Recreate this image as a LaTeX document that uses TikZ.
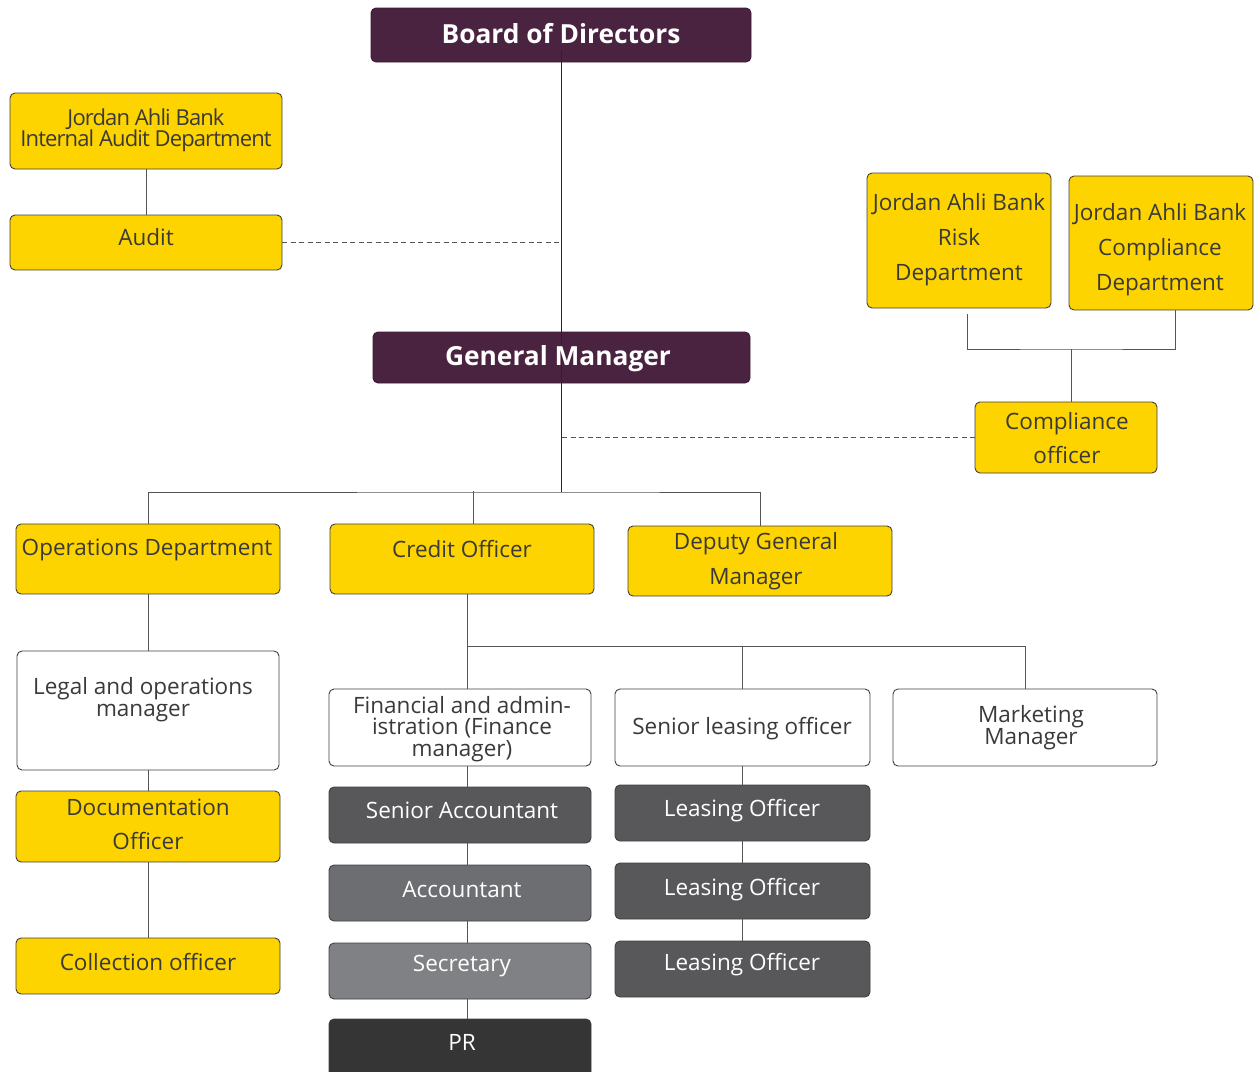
\documentclass[tikz,border=0pt]{standalone}
\usepackage{fontspec}
\setmainfont{Open Sans}
\usetikzlibrary{calc}
\definecolor{ayellow}{HTML}{FDD300}
\definecolor{apurple}{HTML}{4A2341}
\definecolor{gA}{HTML}{58585A}
\definecolor{gB}{HTML}{6D6E71}
\definecolor{gC}{HTML}{808184}
\definecolor{gD}{HTML}{353535}
\definecolor{txtc}{HTML}{3A3A3A}
\definecolor{linec}{HTML}{555555}
\newcommand\bx[6]{\node[#2, anchor=north west, minimum width={(#5-#3)*1pt}, minimum height={(#6-#4)*1pt}] (#1) at (#3,#4) {};}
\tikzset{
  box/.style={draw=black!75, line width=0.9pt, rounded corners=5pt, inner sep=0pt, outer sep=0pt},
  ybox/.style={box, fill=ayellow},
  wbox/.style={box, fill=white},
  pbox/.style={box, fill=apurple, draw=apurple!80!black},
  gbox/.style={box, fill=#1},
  txt/.style={text=txtc, font=\fontsize{22.5}{22}\selectfont, align=center, inner sep=0pt},
  wtxt/.style={txt, text=white},
  btxt/.style={txt, text=white, font=\fontsize{26.3}{28}\selectfont\bfseries},
  conn/.style={draw=linec, line width=1pt},
  dconn/.style={conn, dash pattern=on 5pt off 3.5pt},
}
\begin{document}
\begin{tikzpicture}[x=1pt,y=-1pt]
\useasboundingbox (0,0) rectangle (1258,1071);
% boxes
\bx{board}{pbox}{371}{8}{751}{62}
\bx{gm}{pbox}{373}{332}{750}{383}
\bx{iad}{ybox}{10}{93}{282}{169}
\bx{audit}{ybox}{10}{215}{282}{270}
\bx{risk}{ybox}{867}{173}{1051}{308}
\bx{compdept}{ybox}{1069}{176}{1253}{310}
\bx{compoff}{ybox}{975}{402}{1157}{473}
\bx{ops}{ybox}{16}{524}{280}{594}
\bx{credit}{ybox}{330}{524}{594}{594}
\bx{dgm}{ybox}{628}{526}{892}{596}
\bx{legal}{wbox}{17}{651}{279}{770}
\bx{doc}{ybox}{16}{791}{280}{862}
\bx{coll}{ybox}{16}{938}{280}{994}
\bx{fin}{wbox}{329}{689}{591}{766}
\bx{sl}{wbox}{615}{689}{870}{766}
\bx{mkt}{wbox}{893}{689}{1157}{766}
\bx{sa}{gbox=gA}{329}{787}{591}{843}
\bx{acc}{gbox=gB}{329}{865}{591}{921}
\bx{sec}{gbox=gC}{329}{943}{591}{999}
\bx{pr}{gbox=gD}{329}{1019}{591}{1090}
\bx{lo1}{gbox=gA}{615}{785}{870}{841}
\bx{lo2}{gbox=gA}{615}{863}{870}{919}
\bx{lo3}{gbox=gA}{615}{941}{870}{997}
% connectors
\coordinate (hb) at (561,492);
\coordinate (rj) at (1071,349);
\coordinate (cj) at (467,646);
\draw[conn] (iad.south) -- (audit.north);
\draw[dconn] (audit.east) -- (audit.east -| hb);
\draw[dconn] (compoff.west) -- (compoff.west -| hb);
\draw[conn] ([xshift=8pt,yshift=-6pt]risk.south) |- (rj) -| ([xshift=14pt]compdept.south);
\draw[conn] (rj) -- (rj |- compoff.north);
\draw[conn] (ops.north) |- (hb) -| (dgm.north);
\draw[conn] ([xshift=11pt]credit.north) -- ([xshift=11pt,yshift=1pt]credit.north |- hb);
\draw[conn] (ops.south) -- (legal.north);
\draw[conn] (legal.south) -- (doc.north);
\draw[conn] (doc.south) -- (coll.north);
\draw[conn] (cj |- credit.south) -- (cj |- fin.north);
\draw[conn] (cj) -| (sl.north);
\draw[conn] (cj) -| (mkt.north);
\draw[conn] (cj |- fin.south) -- (cj |- sa.north);
\draw[conn] (cj |- sa.south) -- (cj |- acc.north);
\draw[conn] (cj |- acc.south) -- (cj |- sec.north);
\draw[conn] (cj |- sec.south) -- (cj |- pr.north);
\draw[conn] (sl.south) -- (lo1.north);
\draw[conn] (lo1.south) -- (lo2.north);
\draw[conn] (lo2.south) -- (lo3.north);
\draw[draw=black!85, line width=1pt] ([yshift=12pt]board.south) -- (hb);
% texts
\node[btxt] (t-board) at (561,33.5) {Board of Directors};
\node[btxt] (t-gm) at (558,359) {General Manager};
\node[txt, font=\fontsize{22}{21}\selectfont\addfontfeature{LetterSpace=-4}] (t-iad) at (146,130) {Jordan Ahli Bank\\Internal Audit Department};
\node[txt] (t-audit) at (146,237.5) {Audit};
\node[txt, font=\fontsize{22.5}{35}\selectfont] (t-risk) at (959,240) {Jordan Ahli Bank\\Risk\\Department};
\node[txt, font=\fontsize{22.5}{35}\selectfont] (t-compdept) at (1160,250) {Jordan Ahli Bank\\Compliance\\Department};
\node[txt, font=\fontsize{22.5}{34}\selectfont] (t-compoff) at (1067,438.5) {Compliance\\officer};
\node[txt] (t-ops) at (147,549.5) {Operations Department};
\node[txt] (t-credit) at (462,548.5) {Credit Officer};
\node[txt, font=\fontsize{22.5}{35}\selectfont] (t-dgm) at (756,561) {Deputy General\\Manager};
\node[txt] (t-legal) at (143,700) {Legal and operations\\manager};
\node[txt, font=\fontsize{22.5}{33.5}\selectfont] (t-doc) at (148,824.5) {Documentation\\Officer};
\node[txt] (t-coll) at (148,961.5) {Collection officer};
\node[txt, font=\fontsize{22.5}{21.5}\selectfont] (t-fin) at (462,729) {Financial and admin-\\istration (Finance\\manager)};
\node[txt] (t-sl) at (742,729) {Senior leasing officer};
\node[txt] (t-mkt) at (1031,728) {Marketing\\Manager};
\node[wtxt] (t-sa) at (462,810.5) {Senior Accountant};
\node[wtxt] (t-acc) at (462,889.5) {Accountant};
\node[wtxt] (t-sec) at (462,966.5) {Secretary};
\node[wtxt] (t-pr) at (462,1042.5) {PR};
\node[wtxt] (t-lo1) at (742,811) {Leasing Officer};
\node[wtxt] (t-lo2) at (742,890) {Leasing Officer};
\node[wtxt] (t-lo3) at (742,965) {Leasing Officer};
\end{tikzpicture}
\end{document}
